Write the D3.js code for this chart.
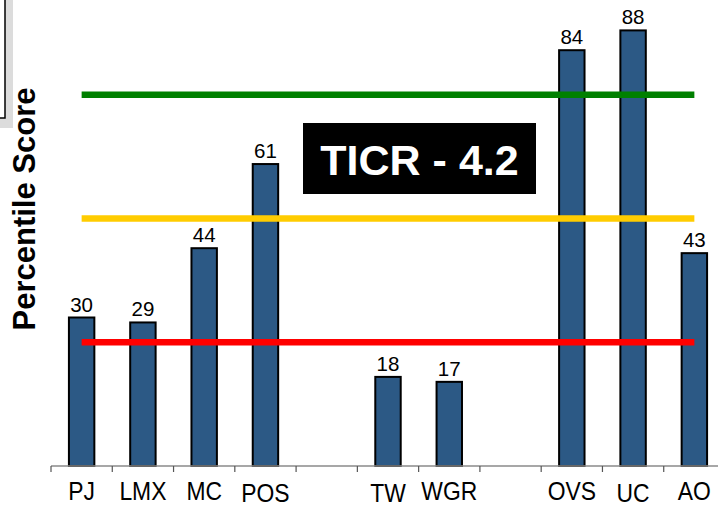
<!DOCTYPE html>
<html><head><meta charset="utf-8">
<script src="https://cdn.jsdelivr.net/npm/d3@7"></script>
<style>html,body{margin:0;padding:0;background:#fff;overflow:hidden}</style>
</head><body><svg id="chart" width="718" height="506"></svg>
<script>
// ---- data ----
const slots = ["PJ","LMX","MC","POS","gap1","TW","WGR","gap2","OVS","UC","AO"];
const categories = ["PJ","LMX","MC","POS","TW","WGR","OVS","UC","AO"];
const scores = [30,29,44,61,18,17,84,88,43];
const benchmarkLevels = [75,50,25];
const benchmarkColors = ["#008000","#FFCC00","#FF0000"];
const yAxisTitle = "Percentile Score";
const calloutText = "TICR - 4.2";

// ---- chart ----
const svg = d3.select("#chart");
const W = 718, H = 506;
const base = 466;
const pad = 0.585;
const x = d3.scaleBand().domain(slots).range([51, 725]).paddingInner(pad).paddingOuter(pad/2);
const y = d3.scaleLinear().domain([0, 100]).range([base, base - 495]);
const step = x.step();
const loweredLabels = new Set(["POS","TW","UC"]);

// top-left framed box with shadow (partially visible)
svg.append("rect").attr("x", -20).attr("y", -20).attr("width", 33).attr("height", 148).attr("fill", "#dcdcdc");
svg.append("rect").attr("x", -20).attr("y", -20).attr("width", 25).attr("height", 138)
  .attr("fill", "#fff").attr("stroke", "#000").attr("stroke-width", 1.5);

// y axis title
svg.append("text")
  .attr("transform", "translate(35,209) rotate(-90)")
  .attr("text-anchor", "middle")
  .style("font-family", "Liberation Sans, Arial, sans-serif")
  .style("font-weight", "bold").style("font-size", "31px").attr("fill", "#000")
  .text(yAxisTitle);

// bars
const data = categories.map((c, i) => ({cat: c, v: scores[i]}));
svg.append("g").selectAll("rect").data(data).join("rect")
  .attr("x", d => x(d.cat)).attr("width", x.bandwidth())
  .attr("y", d => y(d.v)).attr("height", d => base - y(d.v))
  .attr("fill", "#2C5985").attr("stroke", "#000").attr("stroke-width", 2);

// value labels
svg.append("g").selectAll("text").data(data).join("text")
  .attr("x", d => x(d.cat) + x.bandwidth()/2).attr("y", d => y(d.v) - 6)
  .attr("text-anchor", "middle")
  .style("font-family", "Liberation Sans, Arial, sans-serif").style("font-size", "20.5px")
  .attr("fill", "#000").text(d => d.v);

// benchmark lines
const x0 = x(slots[0]) + x.bandwidth()/2, x1 = x(slots[slots.length-1]) + x.bandwidth()/2;
svg.append("g").selectAll("line").data(benchmarkLevels).join("line")
  .attr("x1", x0).attr("x2", x1)
  .attr("y1", d => y(d)).attr("y2", d => y(d))
  .attr("stroke", (d, i) => benchmarkColors[i]).attr("stroke-width", 6.5);

// x axis: baseline, boundary ticks, labels
const gx = svg.append("g").attr("transform", `translate(0,${base})`);
gx.call(d3.axisBottom(x).tickSize(0).tickPadding(30).tickFormat(d => d.startsWith("gap") ? "" : d));
gx.select(".domain").remove();
gx.selectAll(".tick text")
  .style("font-family", "Liberation Sans, Arial, sans-serif").style("font-size", "26px").attr("fill", "#000")
  .attr("dy", 0).attr("y", d => loweredLabels.has(d) ? 36 : 34.5)
  .attr("transform", "scale(0.88,1)");
gx.append("line").attr("x1", x(slots[0]) - step*pad/2).attr("x2", W).attr("y1", 0).attr("y2", 0)
  .attr("stroke", "#8a8a8a").attr("stroke-width", 1.5);
gx.selectAll(".btick").data(slots).join("line").attr("class", "btick")
  .attr("x1", d => x(d) - step*pad/2).attr("x2", d => x(d) - step*pad/2)
  .attr("y1", 0).attr("y2", 6).attr("stroke", "#555").attr("stroke-width", 1.2);

// callout
const cg = svg.append("g");
cg.append("rect").attr("x", 303).attr("y", 123).attr("width", 233).attr("height", 71).attr("fill", "#000");
cg.append("text").attr("x", 419.5).attr("y", 175).attr("text-anchor", "middle")
  .style("font-family", "Liberation Sans, Arial, sans-serif").style("font-weight", "bold").style("font-size", "43px")
  .attr("fill", "#fff").text(calloutText);
</script></body></html>
